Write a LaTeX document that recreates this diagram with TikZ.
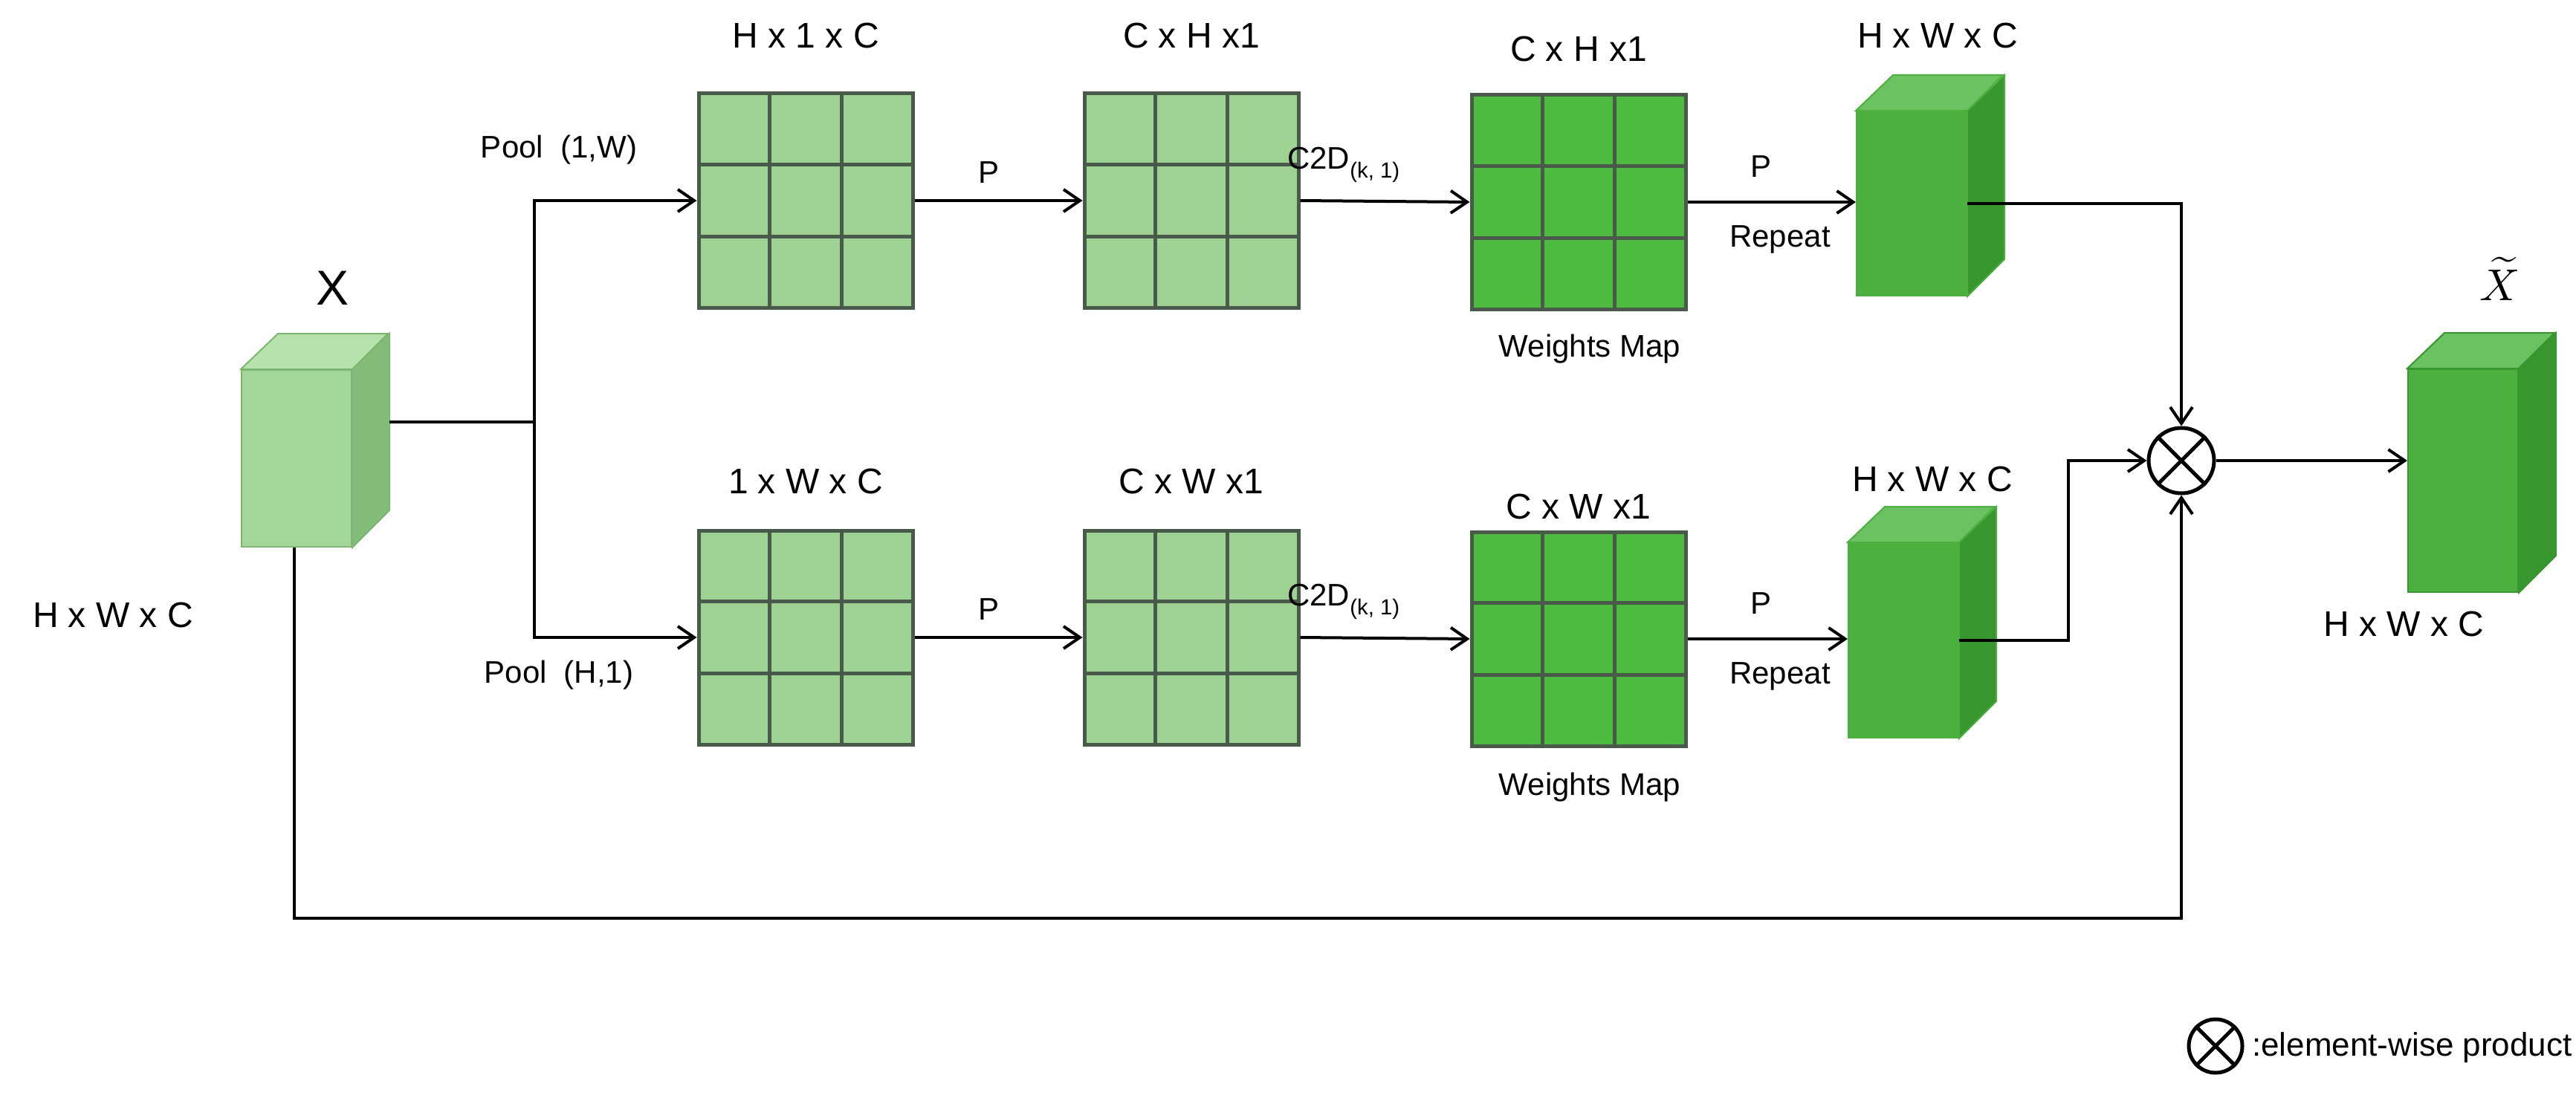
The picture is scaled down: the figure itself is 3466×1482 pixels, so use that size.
\documentclass[tikz,border=0pt]{standalone}
\usepackage{fontspec}
\setmainfont{Liberation Sans}
\usetikzlibrary{arrows.meta,calc}
\definecolor{lg}{HTML}{9DD293}
\definecolor{wg}{HTML}{4DBB40}
\definecolor{gb}{HTML}{4A5A4A}
\definecolor{xf}{HTML}{A3D79A}
\definecolor{xt}{HTML}{B8E2AD}
\definecolor{xs}{HTML}{82BC78}
\definecolor{xb}{HTML}{7DB673}
\definecolor{bf}{HTML}{4CB03F}
\definecolor{bt}{HTML}{6CC262}
\definecolor{bs}{HTML}{37962E}
\tikzset{
 arr/.style={line width=4pt,-{Straight Barb[length=22pt,width=30pt,line width=4pt]}},
 ln/.style={line width=4pt},
 lab/.style={font=\fontsize{48}{56}\selectfont,inner sep=0},
 slab/.style={font=\fontsize{42}{50}\selectfont,inner sep=0},
 gridbox/.style={draw=gb,line width=5pt,minimum width=288pt,minimum height=288pt,inner sep=0},
}
\newcommand\mygrid[4]{%
 \node[gridbox,fill=#4] (#1) at (#2,#3) {};
 \foreach \t in {1,2}{
  \draw[gb,line width=5pt] ($(#1.north west)!\t/3!(#1.north east)$) -- ($(#1.south west)!\t/3!(#1.south east)$);
  \draw[gb,line width=5pt] ($(#1.north west)!\t/3!(#1.south west)$) -- ($(#1.north east)!\t/3!(#1.south east)$);
 }}
\newcommand\mycube[9]{% name cx cy w h front top side border
 \node[fill=#6,draw=#9,line width=2pt,minimum width=#4,minimum height=#5,inner sep=0] (#1) at (#2,#3) {};
 \fill[#7,draw=#9,line width=2pt] (#1.north west) -- ++(50,-48) -- ++(#4,0) -- (#1.north east) -- cycle;
 \fill[#8,draw=#9,line width=2pt] (#1.north east) -- ++(50,-48) -- ++(0,-#5) -- (#1.south east) -- cycle;}
\begin{document}
\begin{tikzpicture}[x=1pt,y=-1pt]
\useasboundingbox (0,0) rectangle (3466,1482);
% input cube
\mycube{X}{399}{617}{148pt}{238pt}{xf}{xt}{xs}{xb}
\node[font=\fontsize{66}{76}\selectfont] (xl) at (448,388) {X};
\node[lab] (xdim) at (152,828) {H x W x C};
% grids
\mygrid{a1}{1084}{270}{lg}
\mygrid{a2}{1603}{270}{lg}
\mygrid{a3}{2124}{272}{wg}
\mygrid{b1}{1084}{858}{lg}
\mygrid{b2}{1603}{858}{lg}
\mygrid{b3}{2124}{860}{wg}
% blocks
\mycube{ta}{2572}{274}{148pt}{248pt}{bf}{bt}{bs}{bf}
\mycube{tb}{2561}{862}{148pt}{262pt}{bf}{bt}{bs}{bf}
\mycube{out}{3314}{647}{148pt}{300pt}{bf}{bt}{bs}{bs}
% labels
\node[lab] at (1084,48) {H x 1 x C};
\node[lab] at (1603,48) {C x H x1};
\node[lab] at (2124,66) {C x H x1};
\node[lab] at (2607,48) {H x W x C};
\node[lab] at (1084,648) {1 x W x C};
\node[lab] at (1603,648) {C x W x1};
\node[lab] at (2124,682) {C x W x1};
\node[lab] at (2600,645) {H x W x C};
\node[slab] at (2139,470) {Weights Map};
\node[slab] at (2139,1060) {Weights Map};
\node[slab] at (752,202) {Pool\ \ (1,W)};
\node[slab] at (752,909) {Pool\ \ (H,1)};
\node[slab] at (1330,232) {P};
\node[slab] at (1330,820) {P};
\node[slab] at (1808,222) {C2D\textsubscript{(k, 1)}};
\node[slab] at (1808,810) {C2D\textsubscript{(k, 1)}};
\node[slab] at (2369,224) {P};
\node[slab] at (2395,322) {Repeat};
\node[slab] at (2369,812) {P};
\node[slab] at (2395,910) {Repeat};
\node[scale=6] at (3364,375) {$\widetilde{X}$};
\node[lab] at (3234,840) {H x W x C};
% product
\node[circle,draw,line width=5pt,minimum size=88pt,inner sep=0] (m) at (2935,620) {};
\draw[line width=5pt] (m.north west) -- (m.south east) (m.north east) -- (m.south west);
% connectors
\coordinate (j) at (719,568);
\coordinate (xs) at ($(X.east |- j)+(50,0)$);
\draw[ln] (xs) -- (j);
\draw[arr] (j) |- (a1.west);
\draw[arr] (j) |- (b1.west);
\draw[arr] (a1) -- (a2);
\draw[arr] (a2.east) -- (a3.west);
\draw[arr] (a3.east) -- (a3.east -| ta.west);
\draw[arr] (b1) -- (b2);
\draw[arr] (b2.east) -- (b3.west);
\draw[arr] (b3.east) -- (b3.east -| tb.west);
\draw[arr] (ta.east) -| (m.north);
\coordinate (k) at (2783,862);
\draw[arr] (tb.east) -- (k) |- (m.west);
\coordinate (bl) at (396,1236);
\draw[arr] (X.south -| bl) -- (bl) -| (m.south);
\draw[arr] (m.east) -- (out.west |- m.east);
% legend
\node[circle,draw,line width=5pt,minimum size=72pt,inner sep=0] (lg) at (2981,1408) {};
\draw[line width=5pt] (lg.north west) -- (lg.south east) (lg.north east) -- (lg.south west);
\node[font=\fontsize{44}{52}\selectfont,anchor=west,inner sep=0] (lt) at (3030,1410) {:element-wise product};
\end{tikzpicture}
\end{document}
